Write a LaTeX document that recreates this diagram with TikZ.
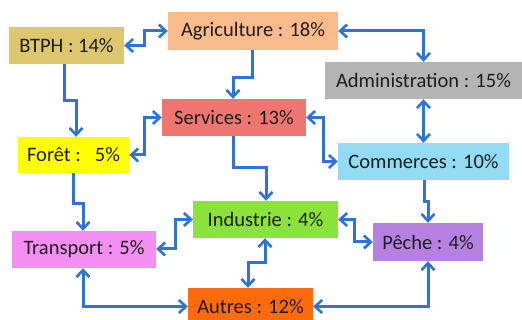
\documentclass[tikz,border=0pt]{standalone}
\usepackage{fontspec}
\setmainfont{Carlito}
\usetikzlibrary{arrows.meta,calc}
\definecolor{lnk}{HTML}{2F74D2}
\definecolor{cbtph}{HTML}{DCC66E}
\definecolor{cagri}{HTML}{F9BA8C}
\definecolor{cadmin}{HTML}{B4B4B4}
\definecolor{cserv}{HTML}{EF7670}
\definecolor{ccomm}{HTML}{92DBF2}
\definecolor{cforet}{HTML}{FFFF00}
\definecolor{cindus}{HTML}{8AE23A}
\definecolor{ctrans}{HTML}{F58EF2}
\definecolor{cpeche}{HTML}{B680E0}
\definecolor{cautres}{HTML}{FF6A0A}
\definecolor{txt}{HTML}{1E1E1E}
\tikzset{
  box/.style={inner sep=0pt, text=txt, font=\fontsize{20.5}{22}\selectfont, anchor=center},
  lk/.style={draw=lnk, line width=3pt, -{Straight Barb[length=7pt,width=13pt,line width=2.6pt]}},
  dlk/.style={draw=lnk, line width=3pt, {Straight Barb[length=7pt,width=13pt,line width=2.6pt]}-{Straight Barb[length=7pt,width=13pt,line width=2.6pt]}},
}
\begin{document}
\begin{tikzpicture}[x=1pt,y=-1pt]
\useasboundingbox[fill=white] (0,0) rectangle (522,320);
\node[box, fill=cbtph, minimum width=115pt, minimum height=37pt] (btph) at (66.5,45.5) {BTPH : 14\%};
\node[box, fill=cagri, minimum width=170pt, minimum height=38pt] (agri) at (253,31) {Agriculture : 18\%};
\node[box, fill=cadmin, minimum width=197pt, minimum height=37pt] (admin) at (423.5,80.5) {Administration : 15\%};
\node[box, fill=cserv, minimum width=144pt, minimum height=37pt] (serv) at (234,117.5) {Services : 13\%};
\node[box, fill=ccomm, minimum width=171pt, minimum height=37pt] (comm) at (423.5,161.5) {Commerces : 10\%};
\node[box, fill=cforet, minimum width=111pt, minimum height=36pt] (foret) at (73.5,155) {Forêt :\ \ \ 5\%};
\node[box, fill=cindus, minimum width=145pt, minimum height=37pt] (indus) at (265.5,219.5) {Industrie : 4\%};
\node[box, fill=ctrans, minimum width=144pt, minimum height=37pt] (trans) at (84,249.5) {Transport : 5\%};
\node[box, fill=cpeche, minimum width=110pt, minimum height=38pt] (peche) at (428,242) {Pêche : 4\%};
\node[box, fill=cautres, minimum width=125pt, minimum height=37pt] (autres) at (250.5,306.5) {Autres : 12\%};
% connectors
\draw[dlk] (btph.east) -- ++(20,0) |- (agri.west);
\draw[lk] ($(agri.south)+(-1,0)$) -- ++(0,27) -| ($(serv.north)+(-1,0)$);
\draw[dlk] (agri.east) -| (admin.north);
\draw[dlk] (admin.south) -- (comm.north);
\draw[lk] ($(btph.south)+(-2.5,0)$) -- ++(0,36) -| ($(foret.north)+(2.5,0)$);
\draw[dlk] (foret.east) -- ++(15,0) |- (serv.west);
\draw[dlk] (serv.east) -- ++(17,0) |- (comm.west);
\draw[lk] ($(serv.south)+(-1,0)$) -- ++(0,31) -| ($(indus.north)+(0.5,0)$);
\draw[lk] (foret.south) -- ++(0,30) -| ($(trans.north)+(-1,0)$);
\draw[dlk] ($(trans.east)+(0,-0.5)$) -- ++(19,0) |- (indus.west);
\draw[dlk] ($(trans.south)+(-1,0)$) |- (autres.west);
\draw[dlk] ($(indus.south)+(-0.5,0)$) -- ++(0,24) -| ($(autres.north)+(-2.5,0)$);
\draw[dlk] (indus.east) -- ++(16,0) |- (peche.west);
\draw[lk] ($(comm.south)+(0.5,0)$) -- ++(0,21) -| (peche.north);
\draw[dlk] (peche.south) |- (autres.east);
\end{tikzpicture}
\end{document}
